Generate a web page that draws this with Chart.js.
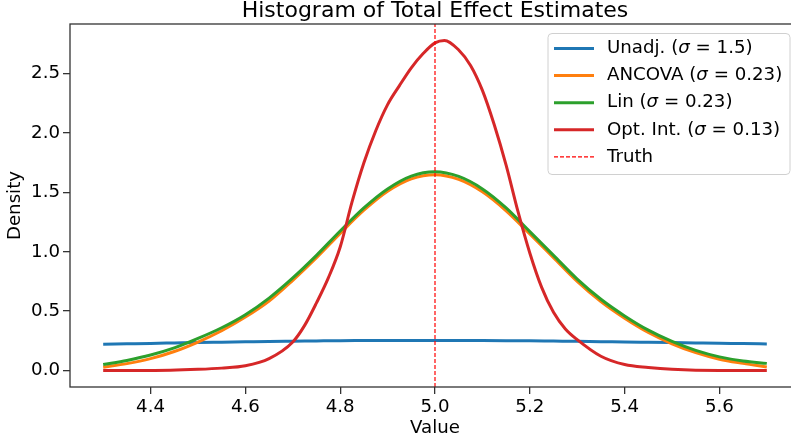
<!DOCTYPE html>
<html>
<head>
<meta charset="utf-8">
<script src="https://cdn.jsdelivr.net/npm/chart.js@4.4.1/dist/chart.umd.min.js"></script>
<style>
  html, body { margin: 0; padding: 0; background: #fff; overflow: hidden; }
  #wrap { width: 812px; height: 442px; position: relative; }
</style>
</head>
<body>
<div id="wrap"><canvas id="chart"></canvas></div>
<script>
// shared grid for the smooth curves
const xs = [4.30, 4.35, 4.40, 4.45, 4.50, 4.55, 4.60, 4.65, 4.70, 4.75, 4.80, 4.85, 4.90, 4.95, 5.00,
            5.05, 5.10, 5.15, 5.20, 5.25, 5.30, 5.35, 5.40, 5.45, 5.50, 5.55, 5.60, 5.65, 5.70];
const unadjY = [0.222, 0.225, 0.228, 0.232, 0.236, 0.239, 0.242, 0.245, 0.247, 0.249, 0.251, 0.252, 0.253, 0.253, 0.253,
                0.253, 0.252, 0.251, 0.250, 0.248, 0.246, 0.243, 0.241, 0.238, 0.235, 0.232, 0.229, 0.227, 0.224];
const ancovaY = [0.028, 0.058, 0.10, 0.16, 0.24, 0.335, 0.45, 0.585, 0.76, 0.95, 1.155, 1.35, 1.51, 1.615, 1.65,
                 1.61, 1.505, 1.345, 1.15, 0.95, 0.75, 0.58, 0.44, 0.32, 0.225, 0.15, 0.095, 0.06, 0.03];
const linY = [0.05, 0.085, 0.13, 0.19, 0.27, 0.36, 0.47, 0.61, 0.78, 0.97, 1.175, 1.37, 1.53, 1.638, 1.675,
              1.635, 1.53, 1.37, 1.17, 0.97, 0.77, 0.60, 0.46, 0.34, 0.245, 0.17, 0.115, 0.08, 0.06];
// optimal-intervention curve has its own, finer grid (sharp peak)
const optX = [4.30, 4.40, 4.50, 4.55, 4.60, 4.65, 4.70, 4.725, 4.75, 4.775, 4.80, 4.825, 4.85, 4.875, 4.90,
              4.925, 4.95, 4.975, 5.00, 5.02, 5.05, 5.075, 5.10, 5.125, 5.15, 5.175, 5.20, 5.225, 5.25,
              5.275, 5.30, 5.35, 5.40, 5.45, 5.50, 5.60, 5.70];
const optY = [0, 0, 0.01, 0.02, 0.04, 0.10, 0.24, 0.38, 0.57, 0.78, 1.04, 1.42, 1.75, 2.02, 2.24,
              2.40, 2.55, 2.67, 2.76, 2.78, 2.70, 2.57, 2.36, 2.07, 1.73, 1.34, 0.99, 0.70, 0.49,
              0.35, 0.26, 0.12, 0.05, 0.025, 0.01, 0, 0];

const names  = ['Unadj.', 'ANCOVA', 'Lin', 'Opt. Int.'];
const sigmas = ['1.5', '0.23', '0.23', '0.13'];
const colors = ['#1f77b4', '#ff7f0e', '#2ca02c', '#d62728'];
const truth = 5.0;

const xTicks = [4.4, 4.6, 4.8, 5.0, 5.2, 5.4, 5.6];
const yTicks = [0.0, 0.5, 1.0, 1.5, 2.0, 2.5];
const xMin = 4.23, xMax = 5.77, yMin = -0.139, yMax = 2.919;

const FONT = 'DejaVu Sans';
const FS = 18.2;
const pts = (xv, yv) => xv.map((x, i) => ({ x, y: yv[i] }));

function curve(i, data, order) {
  return {
    label: names[i], data, borderColor: colors[i], borderWidth: 3,
    pointRadius: 0, fill: false, cubicInterpolationMode: 'monotone', order
  };
}

const frame = {
  id: 'frame',
  afterDraw(chart) {
    const { ctx, chartArea: a } = chart;
    ctx.save();
    ctx.strokeStyle = '#333';
    ctx.lineWidth = 1.3;
    ctx.strokeRect(a.left, a.top, a.right - a.left, a.bottom - a.top);

    ctx.fillStyle = '#000';
    ctx.textAlign = 'center';
    ctx.textBaseline = 'alphabetic';
    ctx.font = `22px "${FONT}"`;
    ctx.fillText('Histogram of Total Effect Estimates', (a.left + a.right) / 2, 17);
    ctx.font = `${FS}px "${FONT}"`;
    ctx.fillText('Value', (a.left + a.right) / 2, 433);
    ctx.save();
    ctx.translate(20, (a.top + a.bottom) / 2);
    ctx.rotate(-Math.PI / 2);
    ctx.fillText('Density', 0, 0);
    ctx.restore();

    // legend, upper right
    const right = a.right - 10, top = a.top + 9.5;
    const w = 242, h = 141, left = right - w;
    ctx.beginPath();
    ctx.roundRect(left, top, w, h, 4);
    ctx.fillStyle = 'rgba(255,255,255,0.8)';
    ctx.fill();
    ctx.strokeStyle = '#d0d0d0';
    ctx.lineWidth = 1;
    ctx.stroke();

    ctx.textAlign = 'left';
    ctx.textBaseline = 'middle';
    const rowY = i => top + 15 + i * 27.1;
    for (let i = 0; i <= names.length; i++) {
      const y = rowY(i);
      ctx.beginPath();
      ctx.moveTo(left + 6, y);
      ctx.lineTo(left + 46, y);
      if (i < names.length) {
        ctx.strokeStyle = colors[i]; ctx.lineWidth = 3; ctx.setLineDash([]);
      } else {
        ctx.strokeStyle = 'red'; ctx.lineWidth = 1.2; ctx.setLineDash([4, 2]);
      }
      ctx.stroke();
      ctx.setLineDash([]);
      ctx.fillStyle = '#000';
      let tx = left + 59;
      if (i < names.length) {
        const parts = [[names[i] + ' (', ''], ['σ', 'italic '], [' = ' + sigmas[i] + ')', '']];
        for (const [s, st] of parts) {
          ctx.font = `${st}${FS}px "${FONT}"`;
          ctx.fillText(s, tx, y);
          tx += ctx.measureText(s).width;
        }
      } else {
        ctx.font = `${FS}px "${FONT}"`;
        ctx.fillText('Truth', tx, y);
      }
    }
    ctx.restore();
  }
};

const tickFont = { family: FONT, size: FS };

new Chart(document.getElementById('chart'), {
  type: 'line',
  data: {
    datasets: [
      curve(0, pts(xs, unadjY), 5),
      curve(1, pts(xs, ancovaY), 4),
      curve(2, pts(xs, linY), 3),
      curve(3, pts(optX, optY), 2),
      {
        label: 'Truth', data: [{ x: truth, y: yMin }, { x: truth, y: yMax }],
        borderColor: 'red', borderWidth: 1.2, borderDash: [4, 2], pointRadius: 0, fill: false, order: 1
      }
    ]
  },
  options: {
    responsive: true,
    maintainAspectRatio: false,
    animation: false,
    layout: { padding: { left: 0, top: 24, right: 12, bottom: 0 } },
    plugins: { legend: { display: false }, tooltip: { enabled: false }, title: { display: false } },
    scales: {
      x: {
        type: 'linear', min: xMin, max: xMax,
        afterBuildTicks: s => { s.ticks = xTicks.map(v => ({ value: v })); },
        afterFit: s => { s.height = 55; },
        grid: { drawOnChartArea: false, drawTicks: true, tickLength: 7, color: '#333', lineWidth: 1.3 },
        border: { display: false },
        ticks: { color: '#000', font: tickFont, padding: 2, maxRotation: 0, callback: v => v.toFixed(1) }
      },
      y: {
        type: 'linear', min: yMin, max: yMax,
        afterBuildTicks: s => { s.ticks = yTicks.map(v => ({ value: v })); },
        afterFit: s => { s.width = 70; },
        grid: { drawOnChartArea: false, drawTicks: true, tickLength: 7, color: '#333', lineWidth: 1.3 },
        border: { display: false },
        ticks: { color: '#000', font: tickFont, padding: 3, callback: v => v.toFixed(1) }
      }
    }
  },
  plugins: [frame]
});
</script>
</body>
</html>
